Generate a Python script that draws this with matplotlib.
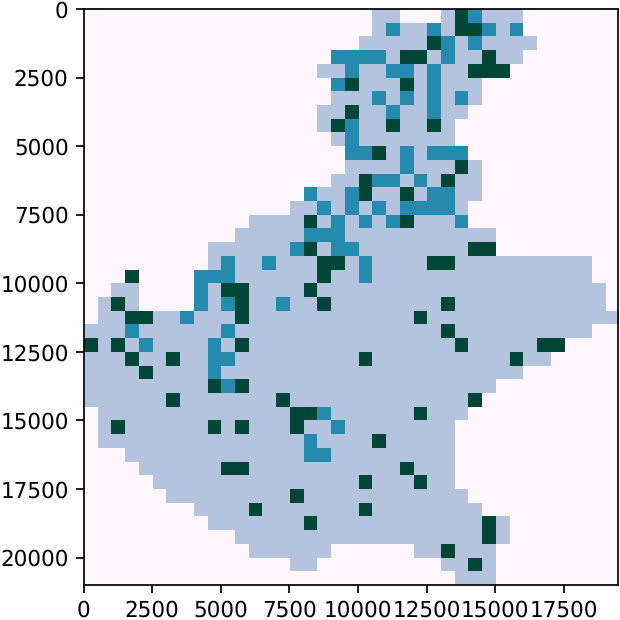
import matplotlib
matplotlib.use("Agg")
import matplotlib.pyplot as plt
import numpy as np

plt.rcParams["text.hinting"] = "no_hinting"

# class per cell, 500 x 500 units, spaces only to make columns countable
grid_rows = [
    ".......... .......... .11...1321 11.......",
    ".......... .......... .121121332 12.......",
    ".......... .......... 1111132121 111......",
    ".......... ........22 2213312113 11.......",
    ".......... .......112 1122121133 3........",
    ".......... ........23 111312111. .........",
    ".......... ........11 121212121. .........",
    ".......... .......113 11211211.. .........",
    ".......... .......132 1131131... .........",
    ".......... ........12 1111111... .........",
    ".......... .........2 23121222.. .........",
    ".......... .........1 111211131. .........",
    ".......... ........11 322121311. .........",
    ".......... ......2112 311312211. .........",
    ".......... .....11212 12122221.. .........",
    ".......... ..11113121 21231112.. .........",
    ".......... .111112221 1111111111 .........",
    ".........1 1111123122 1111111133 .........",
    ".........1 2112111331 2111133111 1111111..",
    "...3....22 2111111311 2111111111 1111111..",
    "..11....21 3311113111 1111111111 11111111.",
    ".131....21 2311211311 1111113111 11111111.",
    ".113311211 1311111111 1111311111 111111111",
    "1112111111 2111111111 1111113111 1111111..",
    "3131211112 1311111111 1111111311 11133....",
    "1113113112 2111111111 3111111111 1311.....",
    "1111311112 1111111111 1111111111 11.......",
    "1111111113 2311111111 1111111111 .........",
    "1111113111 1111311111 111111113. .........",
    ".111111111 1111133211 11113111.. .........",
    ".131111113 1311131121 1111111... .........",
    ".111111111 1111112111 1311111... .........",
    "...1111111 1111112211 1111111... .........",
    "....111111 3311111111 1113111... .........",
    ".....11111 1111111111 3111311... .........",
    "......1111 1111131111 11111111.. .........",
    "........11 1131111111 311111111. .........",
    ".........1 1111113111 1111111113 1........",
    ".......... .111111111 1111111113 1........",
    ".......... ..111111.. ....113111 .........",
    ".......... .....11... ......1131 .........",
    ".......... .......... .......111 .........",
]
cell_size = 500

grid = np.array([[0 if ch == "." else int(ch) for ch in row.replace(" ", "")] for row in grid_rows])
n_rows, n_cols = grid.shape

fig = plt.figure(figsize=(4, 4), dpi=155)
ax = fig.add_axes([83.7 / 620, 1 - 585 / 620, (618 - 83.7) / 620, (585 - 9) / 620])
ax.imshow(grid, cmap="PuBuGn", vmin=0, vmax=3, aspect="auto",
          extent=[0, n_cols * cell_size, n_rows * cell_size, 0])
ax.set_xlim(0, 19480)
ax.set_ylim(21000, 0)

fig.savefig("out.png", dpi=155)
